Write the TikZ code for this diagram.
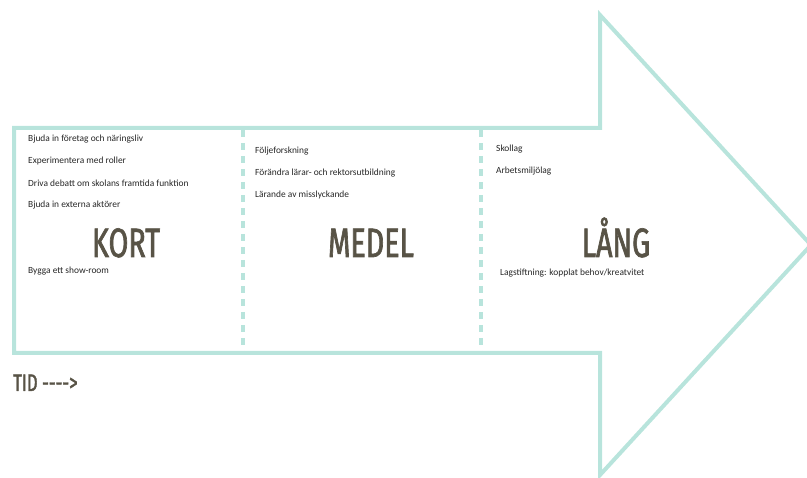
\documentclass[tikz,border=0pt]{standalone}
\usepackage{fontspec}
\setmainfont{Carlito}
\newfontfamily\titlefont[FakeStretch=0.7, FakeBold=1.6]{Fira Sans}
\usepackage{tikz}
\usetikzlibrary{positioning}
\definecolor{arrowteal}{RGB}{184,228,220}
\definecolor{titlegray}{RGB}{88,83,70}

\begin{document}
\begin{tikzpicture}[
    x=1pt, y=-1pt,
    node distance=22pt,
    item/.style={anchor=west, inner sep=0pt, font=\fontsize{9.4}{11}\selectfont, text=black!85},
    term/.style={anchor=base, inner sep=0pt, font=\titlefont\fontsize{41}{41}\selectfont, text=titlegray},
    outline/.style={draw=arrowteal, line width=4pt, line join=miter},
    divider/.style={draw=arrowteal, line width=4pt, dash pattern=on 7pt off 6pt}
]
\useasboundingbox (0,0) rectangle (807,478);

% --- Arrow ---
\coordinate (tip) at (811,245);
\draw[outline] (14,128) -- (600,128) -- (600,15) -- (tip) -- (600,475) -- (600,353) -- (14,353) -- cycle;
\draw[divider] (243,130) -- (243,353);
\draw[divider] (481,130) -- (481,353);

% --- Kort ---
\node[item] (k1) at (28,139) {Bjuda in företag och näringsliv};
\node[item, below=of k1.west, anchor=west] (k2) {Experimentera med roller};
\node[item, below=of k2.west, anchor=west] (k3) {Driva debatt om skolans framtida funktion};
\node[item, below=of k3.west, anchor=west] (k4) {Bjuda in externa aktörer};
\node[term] (kort) at (126,257) {KORT};
\node[item] (k5) at (28,271) {Bygga ett show-room};

% --- Medel ---
\node[item] (m1) at (255,151) {Följeforskning};
\node[item, below=of m1.west, anchor=west] (m2) {Förändra lärar- och rektorsutbildning};
\node[item, below=of m2.west, anchor=west] (m3) {Lärande av misslyckande};
\node[term] (medel) at (371,257) {MEDEL};

% --- Lång ---
\node[item] (l1) at (496,149) {Skollag};
\node[item, below=of l1.west, anchor=west] (l2) {Arbetsmiljölag};
\node[term] (lang) at (616,257) {LÅNG};
\node[item] (l3) at (500,273) {Lagstiftning: kopplat behov/kreatvitet};

% --- Time axis ---
\node[term, anchor=base west, font=\titlefont\fontsize{24}{24}\selectfont] (tid) at (13,391) {TID -{}-{}-{}-{}>};
\end{tikzpicture}
\end{document}
